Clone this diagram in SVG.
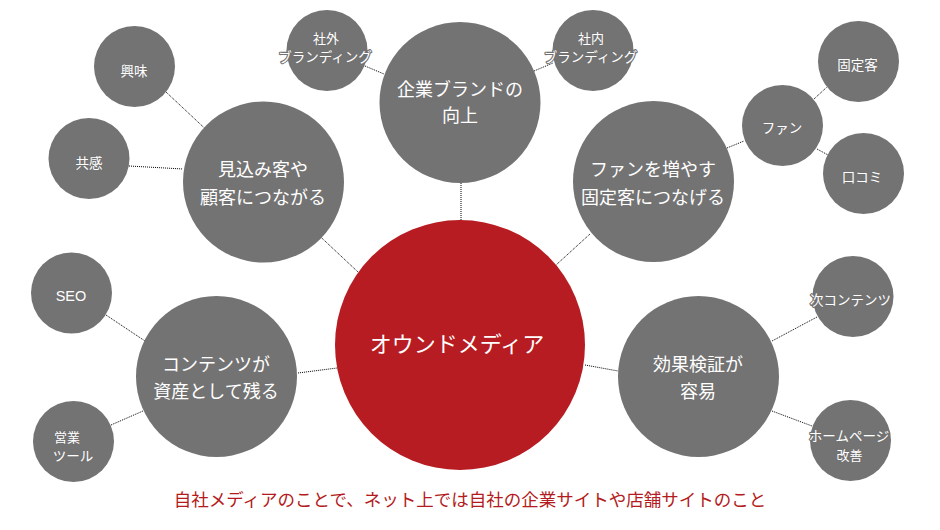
<svg xmlns="http://www.w3.org/2000/svg" width="940" height="530" viewBox="0 0 940 530">
<style>
.n{fill:#737373}
.c{fill:#b71c22}
text{font-family:"Noto Sans CJK JP","Noto Sans",sans-serif;fill:#fff;text-anchor:middle}
.b{font-size:18px}
.s{font-size:13.5px;stroke:#727272;stroke-width:2.2px;paint-order:stroke;stroke-linejoin:round}
.t{font-size:13px}
.m{font-size:22px}
.cap{font-size:17.5px;fill:#b31b20}
.lat{font-family:"Liberation Sans",Arial,sans-serif;font-size:14.5px}
#connectors line{stroke:#000;stroke-width:1;stroke-dasharray:1 1;fill:none}
</style>
<rect width="940" height="530" fill="#fff"/>
<g id="connectors">
<line x1="166" y1="92" x2="358" y2="272"/>
<line x1="129" y1="166" x2="183" y2="169"/>
<line x1="365" y1="66" x2="384" y2="74"/>
<line x1="461" y1="183" x2="461" y2="220"/>
<line x1="534" y1="71" x2="553" y2="63"/>
<line x1="590" y1="234" x2="556" y2="265"/>
<line x1="727" y1="148" x2="744" y2="141"/>
<line x1="814" y1="99" x2="827" y2="87"/>
<line x1="817" y1="149" x2="828" y2="155"/>
<line x1="106" y1="315" x2="145" y2="341"/>
<line x1="111" y1="425" x2="143" y2="411"/>
<line x1="298" y1="373" x2="337" y2="368"/>
<line x1="585" y1="365" x2="618" y2="371"/>
<line x1="772" y1="341" x2="817" y2="317"/>
<line x1="772" y1="411" x2="812" y2="426"/>
</g>
<g id="node-center"><circle class="c" cx="460" cy="345" r="125"/><text class="m" x="457" y="352">オウンドメディア</text></g>
<g id="node-brand"><circle class="n" cx="460" cy="102.5" r="80.5"/><text class="b" x="460" y="96">企業ブランドの</text><text class="b" x="460" y="122">向上</text></g>
<g id="node-prospect"><circle class="n" cx="263.5" cy="182" r="80.5"/><text class="b" x="263" y="176">見込み客や</text><text class="b" x="263" y="204">顧客につながる</text></g>
<g id="node-fan-grow"><circle class="n" cx="653.5" cy="181.5" r="80.5"/><text class="b" x="653" y="176">ファンを増やす</text><text class="b" x="653" y="204">固定客につなげる</text></g>
<g id="node-content"><circle class="n" cx="216.5" cy="376.5" r="80.5"/><text class="b" x="216" y="371">コンテンツが</text><text class="b" x="216" y="398">資産として残る</text></g>
<g id="node-effect"><circle class="n" cx="698.5" cy="376.5" r="80.5"/><text class="b" x="698" y="371">効果検証が</text><text class="b" x="698" y="398">容易</text></g>
<g id="node-interest"><circle class="n" cx="134.5" cy="66.5" r="40.5"/><text class="s" x="134" y="75.5">興味</text></g>
<g id="node-empathy"><circle class="n" cx="89" cy="158.5" r="40.5"/><text class="s" x="89" y="168">共感</text></g>
<g id="node-external"><circle class="n" cx="327" cy="50.5" r="40.5"/><text class="s t" x="326" y="43">社外</text><text class="s" x="325" y="61.5">ブランディング</text></g>
<g id="node-internal"><circle class="n" cx="593" cy="50.5" r="40.5"/><text class="s t" x="591" y="43">社内</text><text class="s" x="590.5" y="61.5">ブランディング</text></g>
<g id="node-regular"><circle class="n" cx="858.5" cy="61.5" r="40.5"/><text class="s" x="857.5" y="70">固定客</text></g>
<g id="node-fan"><circle class="n" cx="782.5" cy="125.5" r="40.5"/><text class="s" x="782" y="133">ファン</text></g>
<g id="node-wom"><circle class="n" cx="863.5" cy="173.5" r="40.5"/><text class="s" x="862" y="182">口コミ</text></g>
<g id="node-seo"><circle class="n" cx="71.5" cy="293" r="40.5"/><text class="s lat" x="71" y="300.5">SEO</text></g>
<g id="node-sales"><circle class="n" cx="73.5" cy="441.5" r="40.5"/><text class="s t" x="67" y="442">営業</text><text class="s" x="73" y="460.5">ツール</text></g>
<g id="node-next"><circle class="n" cx="853" cy="296.5" r="40.5"/><text class="s" x="850.5" y="305">次コンテンツ</text></g>
<g id="node-homepage"><circle class="n" cx="850.5" cy="440.5" r="40.5"/><text class="s" x="849" y="441">ホームページ</text><text class="s t" x="849.5" y="460">改善</text></g>
<text class="cap" x="470" y="506">自社メディアのことで、ネット上では自社の企業サイトや店舗サイトのこと</text>
</svg>
